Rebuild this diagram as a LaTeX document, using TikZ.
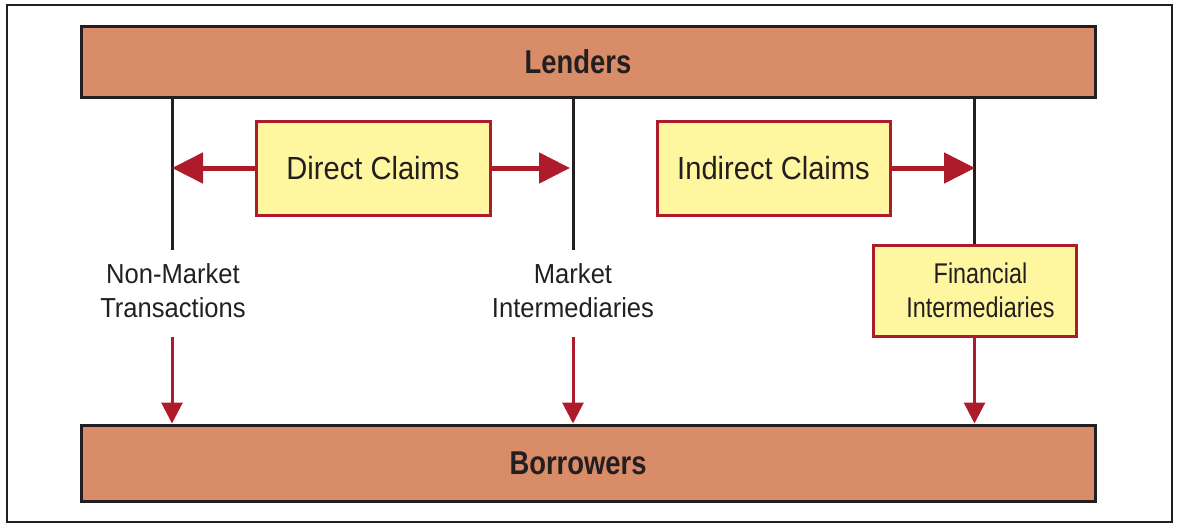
\documentclass[tikz,border=0pt]{standalone}
\usepackage{fontspec}
\setmainfont{Liberation Sans}
\newfontfamily\barfont{Liberation Sans}[FakeStretch=0.83]
\newfontfamily\claimfont{Liberation Sans}[FakeStretch=0.91]
\newfontfamily\finfont{Liberation Sans}[FakeStretch=0.82]
\newfontfamily\lblfont{Liberation Sans}[FakeStretch=0.93]
\usetikzlibrary{arrows.meta}
\definecolor{boxorange}{RGB}{217,140,104}
\definecolor{boxyellow}{RGB}{255,246,160}
\definecolor{claimred}{RGB}{174,28,44}
\definecolor{inkdark}{RGB}{35,31,32}
\tikzset{
  bar/.style={draw=inkdark, line width=3pt, fill=boxorange, inner sep=0pt,
    font=\barfont\fontsize{33}{38}\selectfont\bfseries, text=inkdark},
  claimbox/.style={draw=claimred, line width=3pt, fill=boxyellow, inner sep=0pt,
    font=\claimfont\fontsize{32}{36}\selectfont, text=inkdark},
  intbox/.style={draw=claimred, line width=3pt, fill=boxyellow, inner sep=0pt,
    align=center, font=\finfont\fontsize{28.5}{34}\selectfont, text=inkdark},
  lbl/.style={align=center, font=\lblfont\fontsize{27.5}{34}\selectfont, text=inkdark, inner sep=0pt},
  stem/.style={draw=inkdark, line width=3pt},
  harrow/.style={draw=claimred, line width=5pt, -{Triangle[length=31pt,width=30pt]}},
  varrow/.style={draw=claimred, line width=3pt, -{Triangle[length=21pt,width=21pt]}},
}
\begin{document}
\begin{tikzpicture}[x=1pt,y=-1pt]
\useasboundingbox (0,0) rectangle (1181,528);
\draw[draw=inkdark, line width=2pt] (7,5) rectangle (1172,522);
\node[bar, minimum width=1014pt, minimum height=71pt] (lenders) at (588,61.5) {\hspace*{-20pt}Lenders};
\node[bar, minimum width=1014pt, minimum height=76pt] (borrowers) at (588,463) {\hspace*{-20pt}Borrowers};
\node[claimbox, minimum width=234pt, minimum height=94pt] (direct) at (373,168) {Direct Claims};
\node[claimbox, minimum width=233pt, minimum height=94pt] (indirect) at (773.5,168) {Indirect Claims};
\node[intbox, minimum width=203pt, minimum height=91pt] (fin) at (974.5,290.5) {\hspace*{12pt}Financial\\\hspace*{12pt}Intermediaries};
\node[lbl] (nm) at (173,291) {Non-Market\\Transactions};
\node[lbl] (mi) at (573,291) {Market\\Intermediaries};
\coordinate (s1) at (172,250);
\coordinate (s2) at (573,250);
\coordinate (d1) at (172,168);
\coordinate (d2) at (573,168);
\coordinate (d3) at (975,168);
\coordinate (t1) at (172,337);
\coordinate (t2) at (573,337);
\draw[stem] (lenders.south -| s1) -- (s1);
\draw[stem] (lenders.south -| s2) -- (s2);
\draw[stem] (lenders.south -| fin.north) -- (fin.north);
\draw[harrow] (direct.west) -- (d1);
\draw[harrow] (direct.east) -- ([xshift=-3pt]d2);
\draw[harrow] (indirect.east) -- (d3);
\draw[varrow] (t1) -- (borrowers.north -| t1);
\draw[varrow] (t2) -- (borrowers.north -| t2);
\draw[varrow] (fin.south) -- (borrowers.north -| fin.south);
\end{tikzpicture}
\end{document}
